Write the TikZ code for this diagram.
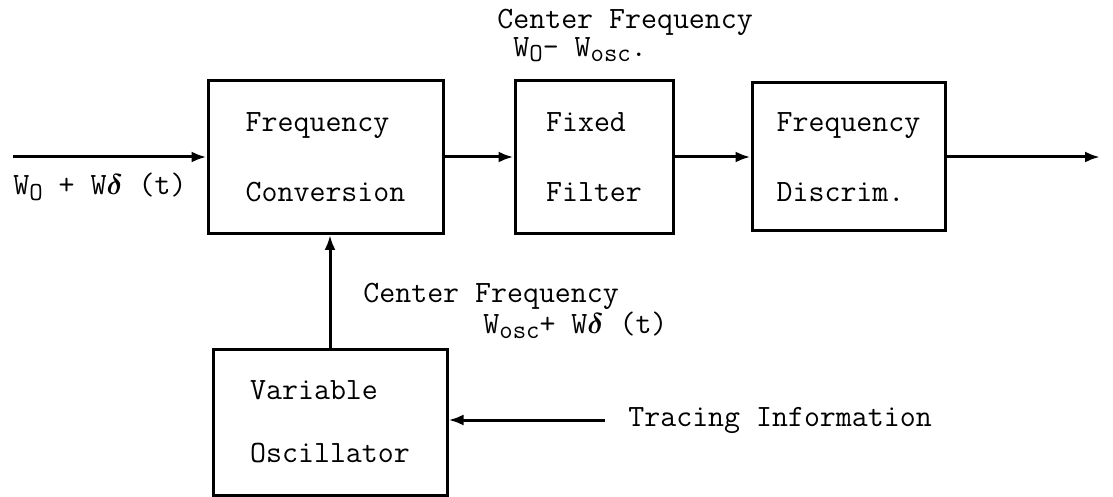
\documentclass[tikz,border=0pt]{standalone}
\usepackage{fontspec}
\usetikzlibrary{arrows.meta}
\newcommand\lw[1]{\raisebox{-0.4ex}{\fontsize{13}{13}\selectfont #1}}
\newcommand\dlt{{\boldmath$\delta$}}
\begin{document}
\begin{tikzpicture}[x=0.5pt,y=-0.5pt,
  blk/.style={draw,line width=1.5pt,inner sep=0pt,align=left,
    font=\ttfamily\fontsize{15.5}{35}\selectfont},
  lbl/.style={anchor=west,inner sep=0pt,font=\ttfamily\fontsize{15.5}{18}\selectfont},
  arr/.style={line width=1.5pt,-{Latex[length=7.5pt,width=5.5pt]}}]
\useasboundingbox (0,0) rectangle (1113,497);
\node[blk,minimum width=117.5pt,minimum height=76.5pt] (conv) at (325.5,157) {Frequency\\Conversion};
\node[blk,minimum width=79pt,minimum height=76.5pt] (filt) at (594,157) {Fixed\\Filter};
\node[blk,minimum width=96.5pt,minimum height=74pt] (disc) at (848.5,157) {Frequency\\Discrim.};
\node[blk,minimum width=117pt,minimum height=73pt,font=\ttfamily\fontsize{15.5}{31.5}\selectfont] (osc) at (330,422) {Variable\\Oscillator};
\coordinate (in) at (13,157);
\coordinate (out) at (1100,157);
\coordinate (trace) at (605,420);
\draw[arr] (in) -- (in -| conv.west);
\draw[arr] (conv.east) -- (filt.west);
\draw[arr] (filt.east) -- (disc.west);
\draw[arr] (disc.east) -- (out);
\draw[arr] (osc.north) -- (osc.north |- conv.south);
\draw[arr] (trace) -- (trace -| osc.east);
\node[lbl] (inl) at (13,187) {W\lw{O} + W\dlt{} (t)};
\node[lbl] (cf1) at (497,22) {Center Frequency};
\node[lbl] (cf1b) at (513,50) {W\lw{O}- W\lw{osc}.};
\node[lbl] (cf2) at (363,296) {Center Frequency};
\node[lbl] (cf2b) at (483,325) {W\lw{osc}+ W\dlt{} (t)};
\node[lbl] (tr) at (628,420) {Tracing Information};
\end{tikzpicture}
\end{document}
